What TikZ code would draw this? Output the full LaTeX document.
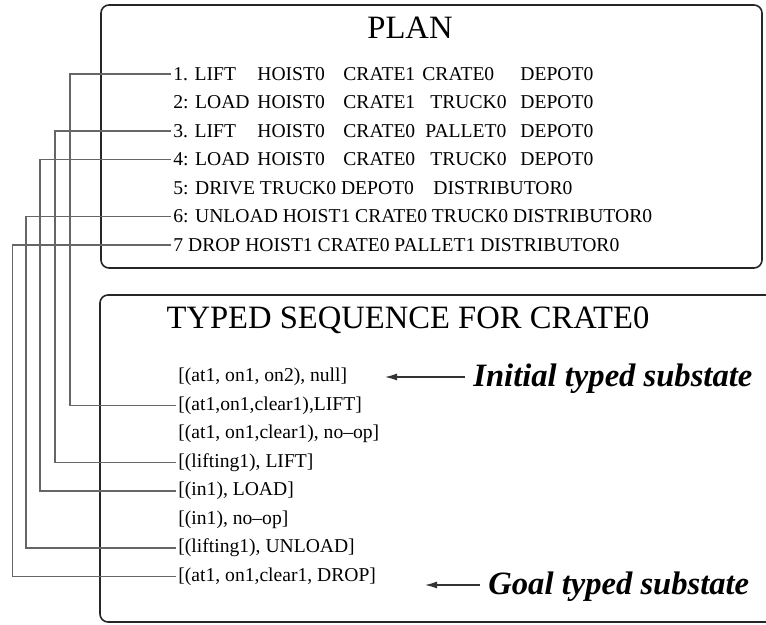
\documentclass[tikz,border=0pt]{standalone}
\usepackage{fontspec}
\setmainfont{Liberation Serif}
\usetikzlibrary{arrows.meta}
\newcommand{\pcol}[2]{\makebox[#1][l]{#2}}

\begin{document}
\begin{tikzpicture}[x=0.5pt,y=-0.5pt]
\tikzset{panel/.style={draw=black!85,line width=0.8pt,rounded corners=4pt},
  heading/.style={font=\fontsize{16.3}{19}\selectfont,inner sep=0pt},
  row/.style={font=\fontsize{9.8}{12}\selectfont,anchor=west,inner sep=1pt},
  tag/.style={font=\fontsize{16.3}{19}\selectfont\bfseries\itshape,anchor=base west,inner xsep=4pt,inner ysep=0pt},
  wire/.style={draw=black!60,line width=0.6pt},
  pointer/.style={draw=black!80,line width=0.6pt,-{Latex[length=6pt,width=3.5pt]}}}
\useasboundingbox (0,0) rectangle (766,625);
\clip (0,0) rectangle (766,625);
% the two panels
\draw [panel] (101,5) rectangle (762,268);
\draw [panel] (100,295) rectangle (800,622);
\node [heading] (plan) at (410,28) {PLAN};
\node [heading] (seq) at (408,320) {TYPED SEQUENCE FOR CRATE0};
% plan steps
\node [row] (p1) at (171,74) {\pcol{42pt}{1. LIFT}\pcol{43pt}{HOIST0}\pcol{39.5pt}{CRATE1}\pcol{49pt}{CRATE0}DEPOT0};
\node [row] (p2) at (171,102.5) {\pcol{42pt}{2: LOAD}\pcol{43pt}{HOIST0}\pcol{43.5pt}{CRATE1}\pcol{45pt}{TRUCK0}DEPOT0};
\node [row] (p3) at (171,131) {\pcol{42pt}{3. LIFT}\pcol{43pt}{HOIST0}\pcol{41pt}{CRATE0}\pcol{47.5pt}{PALLET0}DEPOT0};
\node [row] (p4) at (171,159.5) {\pcol{42pt}{4: LOAD}\pcol{43pt}{HOIST0}\pcol{43.5pt}{CRATE0}\pcol{45pt}{TRUCK0}DEPOT0};
\node [row] (p5) at (171,188) {\pcol{130pt}{5: DRIVE TRUCK0 DEPOT0}DISTRIBUTOR0};
\node [row] (p6) at (171,216.5) {6: UNLOAD HOIST1 CRATE0 TRUCK0 DISTRIBUTOR0};
\node [row] (p7) at (171,245) {7 DROP HOIST1 CRATE0 PALLET1 DISTRIBUTOR0};
% typed substates
\node [row] (s1) at (176,377) {[(at1, on1, on2), null]};
\node [row] (s2) at (176,405.5) {[(at1,on1,clear1),LIFT]};
\node [row] (s3) at (176,434) {[(at1, on1,clear1), no--op]};
\node [row] (s4) at (176,462.5) {[(lifting1), LIFT]};
\node [row] (s5) at (176,491) {[(in1), LOAD]};
\node [row] (s6) at (176,519.5) {[(in1), no--op]};
\node [row] (s7) at (176,548) {[(lifting1), UNLOAD]};
\node [row] (s8) at (176,576.5) {[(at1, on1,clear1, DROP]};
% links from steps to substates
\coordinate (v1) at (70,0);
\coordinate (v2) at (55,0);
\coordinate (v3) at (40,0);
\coordinate (v4) at (26,0);
\coordinate (v5) at (12.5,0);
\foreach \p/\s/\v in {1/2/1,3/4/2,4/5/3,6/7/4,7/8/5}
  \draw [wire] (p\p.west) -- (p\p.west -| v\v) |- (s\s.west);
% labels
\node [tag] (ini) at (465,387) {Initial typed substate};
\coordinate (initip) at (385,377);
\draw [pointer] (ini.west |- initip) -- (initip);
\node [tag] (goal) at (480,595) {Goal typed substate};
\coordinate (goaltip) at (425,585);
\draw [pointer] (goal.west |- goaltip) -- (goaltip);
\end{tikzpicture}
\end{document}
